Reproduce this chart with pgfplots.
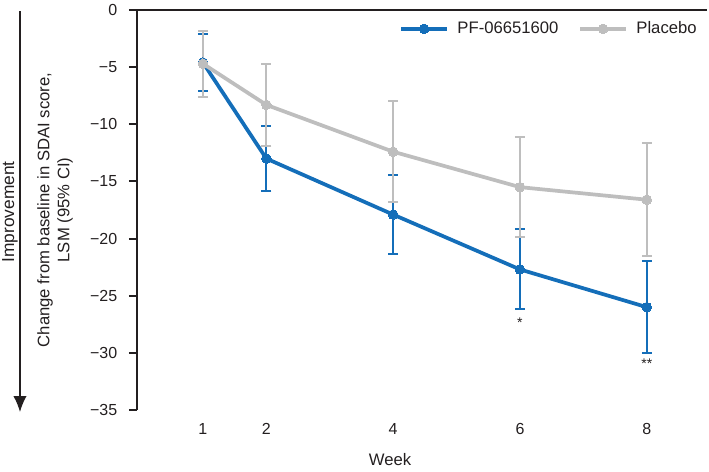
\documentclass[border=0pt]{standalone}
\usepackage{fontspec}
\setmainfont{Liberation Sans}
\usepackage{pgfplots}
\pgfplotsset{compat=1.18}
\usepackage{pgfplotstable}
\usetikzlibrary{arrows.meta}
\definecolor{pfblue}{RGB}{20,110,185}
\definecolor{plgray}{RGB}{190,190,190}
\definecolor{txt}{RGB}{35,31,32}

\pgfplotstableread{
x y e
1 -4.6 2.5
2 -13.0 2.85
4 -17.9 3.45
6 -22.7 3.5
8 -26.0 4.0
}\pfdata
\pgfplotstableread{
x y e
1 -4.7 2.9
2 -8.3 3.6
4 -12.4 4.4
6 -15.5 4.35
8 -16.6 4.95
}\pldata

\begin{document}
\begin{tikzpicture}
\fontsize{12.5}{15}\selectfont
\begin{axis}[
  name=ax,
  scale only axis,
  width=427.5pt, height=300pt,
  xmin=-0.04, xmax=8.95,
  ymin=-35, ymax=0,
  axis x line=bottom,
  axis y line=left,
  x axis line style={draw=none},
  y axis line style={-, line width=1.5pt, txt},
  xtick={1,2,4,6,8},
  xticklabels={1,2,4,6,8},
  xtick style={draw=none},
  ytick={0,-5,-10,-15,-20,-25,-30,-35},
  yticklabels={0,−5,−10,−15,−20,−25,−30,−35},
  ytick style={line width=1.5pt, txt},
  tick align=outside,
  major tick length=6pt,
  tick label style={font=\fontsize{12}{14}\selectfont, text=txt},
  xticklabel style={yshift=0pt},
  yticklabel style={xshift=-4.5pt},
  xlabel={Week},
  xlabel style={at={(axis description cs:0.444,-0.125)}, anchor=center, font=\fontsize{12.5}{15}\selectfont, text=txt},
  ylabel={Change from baseline in SDAI score,\\LSM (95\% CI)},
  ylabel style={at={(axis description cs:-0.1439,0.5)}, anchor=center, align=center, font=\fontsize{12.5}{15}\selectfont, text=txt},
  clip=false,
  legend style={at={(axis description cs:0.994,0.985)}, anchor=north east, draw=none, fill=none,
    legend columns=2, font=\fontsize{12.5}{15}\selectfont, text=txt,
    /tikz/every even column/.append style={column sep=13pt},
    /tikz/every odd column/.append style={column sep=4.5pt}},
  legend image code/.code={\draw[mark repeat=2,mark phase=2,#1] plot coordinates {(0cm,0cm) (0.6cm,0cm) (1.2cm,0cm)};},
]
\addplot[pfblue, line width=2.8pt, mark=*, mark size=3.6pt, mark options={solid, fill=pfblue, draw=pfblue, line width=0pt},
  error bars/.cd, y dir=both, y explicit,
  error bar style={line width=1.5pt, pfblue},
  error mark options={rotate=90, mark size=3.75pt, line width=1.5pt, pfblue}]
  table[x=x, y=y, y error=e] {\pfdata};
\addlegendentry{PF-06651600}
\addplot[plgray, line width=2.8pt, mark=*, mark size=3.6pt, mark options={solid, fill=plgray, draw=plgray, line width=0pt},
  error bars/.cd, y dir=both, y explicit,
  error bar style={line width=1.5pt, plgray},
  error mark options={rotate=90, mark size=3.75pt, line width=1.5pt, plgray}]
  table[x=x, y=y, y error=e] {\pldata};
\addlegendentry{Placebo}
\draw[line width=1.5pt, txt] (rel axis cs:0,1) -- (rel axis cs:1,1);
\node[font=\fontsize{10.5}{12}\selectfont, text=txt, anchor=base] at (axis cs:6,-27.8) {*};
\node[font=\fontsize{10.5}{12}\selectfont, text=txt, anchor=base] at (axis cs:8,-31.4) {**};
\node[rotate=90, anchor=center, text=txt, font=\fontsize{13}{15}\selectfont] at (axis description cs:-0.2228,0.495) {Improvement};
\draw[line width=1pt, txt, -{Latex[length=12pt,width=10pt]}] (axis description cs:-0.2053,0.9975) -- (axis description cs:-0.2053,-0.005);
\end{axis}
\pgfresetboundingbox
\path[use as bounding box] ([xshift=-102.75pt,yshift=-45.75pt]ax.south west) rectangle ([xshift=1.5pt,yshift=7.5pt]ax.north east);
\end{tikzpicture}
\end{document}
